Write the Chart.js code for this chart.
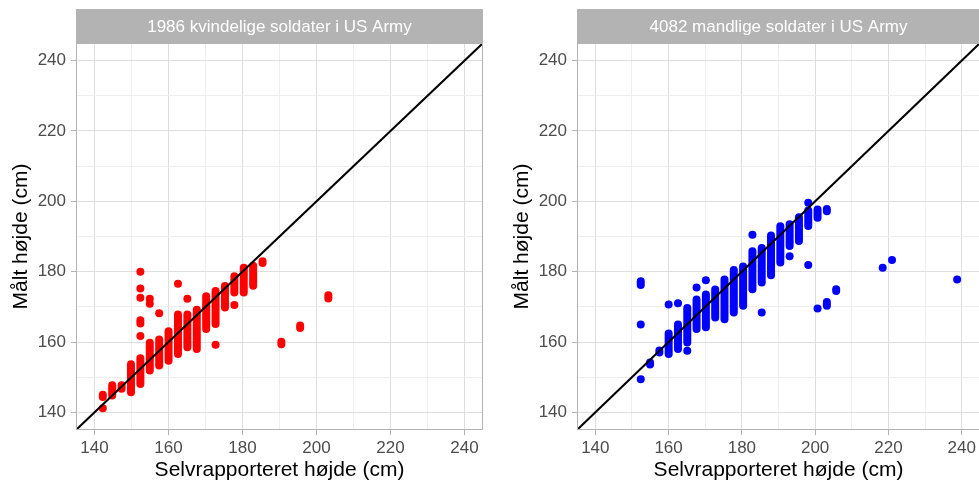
<!DOCTYPE html>
<html>
<head>
<meta charset="utf-8">
<title>Selvrapporteret og målt højde</title>
<script src="https://cdn.jsdelivr.net/npm/chart.js"></script>
<style>
  html, body { margin: 0; padding: 0; background: #fff; overflow: hidden; }
  body { width: 979px; height: 485px; position: relative; }
  canvas { position: absolute; top: 0; }
  #women { left: 0; }
  #men { left: 490px; }
</style>
</head>
<body>
<canvas id="women" width="490" height="485"></canvas>
<canvas id="men" width="494" height="485"></canvas>
<script>
// axis setup (both panels share the same limits)
const axisMin = 135;
const axisMax = 245;
const majorTicks = [140, 160, 180, 200, 220, 240];
const minorTicks = [150, 170, 190, 210, 230];
const stripTitles = ['1986 kvindelige soldater i US Army', '4082 mandlige soldater i US Army'];
const xTitle = 'Selvrapporteret højde (cm)';
const yTitle = 'Målt højde (cm)';

// women: dense columns of overlapping points (self-reported x, lowest / highest measured)
const womenColX    = [142.24, 144.78, 147.32, 149.86, 152.4, 154.94, 157.48, 160.02, 162.56, 165.1, 167.64, 170.18, 172.72, 175.26, 177.8, 180.34, 182.88, 185.42, 190.5, 195.58, 203.2];
const womenColLow  = [144.4, 144.8, 146.7, 145.7, 148.1, 151.9, 153.3, 154.7, 156.6, 158.5, 158.0, 163.7, 165.1, 169.8, 174.1, 174.1, 176.0, 182.5, 159.4, 164.0, 172.4];
const womenColHigh = [145.0, 147.7, 147.7, 153.7, 155.4, 159.8, 160.7, 163.1, 167.8, 167.8, 169.2, 173.0, 174.5, 175.9, 178.7, 181.1, 181.7, 183.0, 160.1, 164.7, 173.3];
// women: single points
const womenPtX = [142.24, 152.4, 152.4, 152.4, 152.4, 152.4, 152.4, 154.94, 154.94, 157.48, 162.56, 165.1, 172.72, 177.8];
const womenPtY = [141.2, 180.0, 175.2, 172.6, 166.2, 165.3, 161.7, 172.3, 170.9, 168.2, 176.6, 172.3, 159.2, 170.5];

// men: dense columns
const menColX    = [152.4, 154.94, 157.48, 160.02, 162.56, 165.1, 167.64, 170.18, 172.72, 175.26, 177.8, 180.34, 182.88, 185.42, 187.96, 190.5, 193.04, 195.58, 198.12, 200.66, 203.2, 203.2, 205.74];
const menColLow  = [176.2, 153.6, 157.0, 156.6, 158.0, 159.9, 163.7, 164.2, 167.0, 166.5, 168.4, 170.3, 175.0, 176.9, 179.0, 182.6, 187.3, 188.7, 193.0, 195.3, 197.2, 170.3, 174.5];
const menColHigh = [177.3, 154.2, 157.6, 162.4, 165.0, 169.7, 172.1, 173.5, 174.9, 177.8, 180.5, 181.5, 185.8, 186.7, 190.3, 192.9, 193.5, 195.5, 197.4, 197.7, 197.8, 171.4, 175.0];
// men: single points
const menPtX = [152.4, 152.4, 160.02, 162.56, 165.1, 167.64, 170.18, 182.88, 185.42, 193.04, 198.12, 198.12, 200.66, 218.44, 220.98, 238.76];
const menPtY = [165.0, 149.4, 170.7, 171.0, 157.5, 175.5, 177.6, 190.5, 168.4, 184.4, 199.6, 181.9, 169.5, 181.1, 183.3, 177.8];

const FONT = "'Liberation Sans', Arial, sans-serif";
const tickValues = majorTicks.concat(minorTicks).sort((a, b) => a - b);

// grey strip + panel border, ggplot theme_light style
const panelFrame = {
  id: 'panelFrame',
  afterDraw(chart, args, opts) {
    const { ctx, chartArea: a } = chart;
    ctx.save();
    ctx.strokeStyle = '#B3B3B3';
    ctx.lineWidth = 1;
    ctx.strokeRect(a.left + 0.5, a.top + 0.5, a.right - a.left - 1, a.bottom - a.top - 1);
    ctx.fillStyle = '#B3B3B3';
    ctx.fillRect(a.left, 9, a.right - a.left, a.top - 9);
    ctx.fillStyle = '#fff';
    ctx.font = '17px ' + FONT;
    ctx.textAlign = 'center';
    ctx.textBaseline = 'middle';
    ctx.fillText(opts.text, (a.left + a.right) / 2, (9 + a.top) / 2 + 1);
    ctx.restore();
  }
};

function gridColor(ctx) {
  return majorTicks.includes(ctx.tick.value) ? '#DEDEDE' : '#EEEEEE';
}
function tickColor(ctx) {
  return majorTicks.includes(ctx.tick.value) ? '#B3B3B3' : 'rgba(0,0,0,0)';
}

function buildDatasets(colX, colLow, colHigh, ptX, ptY, color) {
  const sets = [{
    // y = x reference line
    data: [{ x: axisMin, y: axisMin }, { x: axisMax, y: axisMax }],
    showLine: true,
    borderColor: '#000',
    borderWidth: 2,
    pointRadius: 0
  }];
  colX.forEach((x, i) => {
    sets.push({
      data: [{ x: x, y: colLow[i] }, { x: x, y: colHigh[i] }],
      showLine: true,
      borderColor: color,
      borderWidth: 8,
      borderCapStyle: 'round',
      pointRadius: 0
    });
  });
  sets.push({
    data: ptX.map((x, i) => ({ x: x, y: ptY[i] })),
    pointBackgroundColor: color,
    pointBorderWidth: 0,
    pointRadius: 4
  });
  return sets;
}

function makePanel(canvasId, datasets, strip, yAxisWidth, yTitlePad, rightPad) {
  return new Chart(document.getElementById(canvasId), {
    type: 'scatter',
    data: { datasets: datasets },
    plugins: [panelFrame],
    options: {
      responsive: false,
      animation: false,
      layout: { padding: { top: 43, right: rightPad, bottom: 0, left: 0 } },
      plugins: {
        legend: { display: false },
        tooltip: { enabled: false },
        panelFrame: { text: strip }
      },
      scales: {
        x: {
          type: 'linear',
          min: axisMin,
          max: axisMax,
          afterBuildTicks: s => { s.ticks = tickValues.map(v => ({ value: v })); },
          afterFit: s => { s.height = 55; },
          ticks: {
            callback: v => majorTicks.includes(v) ? String(v) : '',
            color: '#4D4D4D',
            font: { family: FONT, size: 17 },
            padding: 3,
            maxRotation: 0,
            autoSkip: false
          },
          grid: { color: gridColor, lineWidth: 1, tickLength: 5, tickColor: tickColor, tickWidth: 1 },
          border: { display: false },
          title: { display: true, text: xTitle, color: '#000', font: { family: FONT, size: 21 }, padding: { top: 0, bottom: 2 } }
        },
        y: {
          type: 'linear',
          min: axisMin,
          max: axisMax,
          afterBuildTicks: s => { s.ticks = tickValues.map(v => ({ value: v })); },
          afterFit: s => { s.width = yAxisWidth; },
          ticks: {
            callback: v => majorTicks.includes(v) ? String(v) : '',
            color: '#4D4D4D',
            font: { family: FONT, size: 17 },
            padding: 5,
            autoSkip: false
          },
          grid: { color: gridColor, lineWidth: 1, tickLength: 5, tickColor: tickColor, tickWidth: 1 },
          border: { display: false },
          title: { display: true, text: yTitle, color: '#000', font: { family: FONT, size: 21 }, padding: { top: yTitlePad, bottom: 0 } }
        }
      }
    }
  });
}

makePanel('women', buildDatasets(womenColX, womenColLow, womenColHigh, womenPtX, womenPtY, '#FF0000'), stripTitles[0], 76, 9, 7);
makePanel('men', buildDatasets(menColX, menColLow, menColHigh, menPtX, menPtY, '#0000FF'), stripTitles[1], 87, 20, 0);
</script>
</body>
</html>
